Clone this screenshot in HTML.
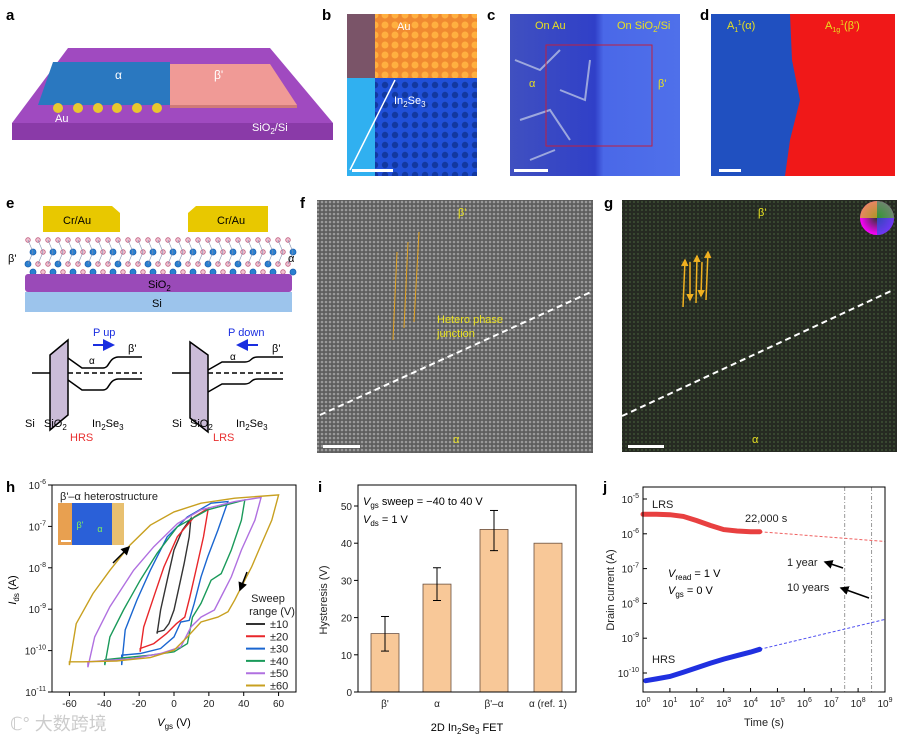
<!DOCTYPE html>
<html><head><meta charset="utf-8"><style>
body{margin:0;background:#fff;}
svg{display:block;font-family:"Liberation Sans","Noto Sans CJK SC",sans-serif;}
.pl{font-weight:bold;font-size:15px;fill:#000;}
.t{font-size:11px;fill:#222;}
.y{fill:#e8e020;font-size:11px;}
</style></head><body>
<svg id="fig" width="902" height="739" viewBox="0 0 902 739">
<defs>
<pattern id="aupat" width="10" height="10" patternUnits="userSpaceOnUse"><rect width="10" height="10" fill="#f08a30"/><circle cx="5" cy="5" r="3.5" fill="#ffb040"/></pattern>
<pattern id="bpat" width="10" height="10" patternUnits="userSpaceOnUse"><rect width="10" height="10" fill="#2050d8"/><circle cx="5" cy="5" r="3.2" fill="#1238a0"/></pattern>
<pattern id="tem" width="4" height="4" patternUnits="userSpaceOnUse"><rect width="4" height="4" fill="#5e5e5e"/><circle cx="2" cy="2" r="1.3" fill="#9a9a9a"/></pattern>
<pattern id="tem2" width="4" height="4" patternUnits="userSpaceOnUse"><rect width="4" height="4" fill="#262a22"/><circle cx="2" cy="2" r="1.1" fill="#3a4a32"/></pattern>
<linearGradient id="cgr" x1="0" x2="1"><stop offset="0" stop-color="#4050c0"/><stop offset="0.5" stop-color="#3040c8"/><stop offset="0.55" stop-color="#4a68e8"/><stop offset="1" stop-color="#4f70ea"/></linearGradient>
<radialGradient id="cw"><stop offset="0" stop-color="#333"/><stop offset="1" stop-color="#f0f"/></radialGradient>
<marker id="ah" markerWidth="6" markerHeight="6" refX="5" refY="3" orient="auto"><path d="M0,0L6,3L0,6z" fill="#000"/></marker>
<marker id="ahb" markerWidth="6" markerHeight="6" refX="5" refY="3" orient="auto"><path d="M0,0L6,3L0,6z" fill="#1a2ee0"/></marker>
<marker id="ahy" markerWidth="5" markerHeight="5" refX="4" refY="2.5" orient="auto"><path d="M0,0L5,2.5L0,5z" fill="#f0b020"/></marker>
</defs>

<g>
<text class="pl" x="6" y="20">a</text>
<polygon points="12,123 333,123 333,140 12,140" fill="#8a3aa8"/>
<polygon points="68,48 270,48 333,123 12,123" fill="#a04ac0"/>
<polygon points="53,62 170,62 170,105 38,105" fill="#2a78c0"/>
<g fill="#e8c830"><circle cx="58" cy="108" r="5"/><circle cx="78" cy="108" r="5"/><circle cx="98" cy="108" r="5"/><circle cx="117" cy="108" r="5"/><circle cx="137" cy="108" r="5"/><circle cx="157" cy="108" r="5"/></g>
<polygon points="170,64 270,64 297,105 170,105" fill="#f09a96"/>
<polygon points="170,105 297,105 297,108 170,108" fill="#d07a78"/>
<text x="115" y="79" fill="#fff" font-size="12">α</text>
<text x="214" y="79" fill="#fff" font-size="12">β'</text>
<text x="55" y="122" fill="#fff" font-size="11">Au</text>
<text x="252" y="131" fill="#fff" font-size="11">SiO<tspan font-size="8" dy="3">2</tspan><tspan dy="-3">/Si</tspan></text>
</g>

<g>
<text class="pl" x="322" y="20">b</text>
<rect x="347" y="14" width="130" height="162" fill="url(#bpat)"/>
<rect x="375" y="14" width="102" height="64" fill="url(#aupat)"/>
<rect x="347" y="14" width="28" height="64" fill="#7a5468"/>
<rect x="347" y="78" width="28" height="98" fill="#30b0f0"/>
<line x1="350" y1="170" x2="395" y2="80" stroke="#fff" stroke-width="1.5"/>
<text x="397" y="30" fill="#fff" font-size="11">Au</text>
<text x="394" y="104" fill="#fff" font-size="11">In<tspan font-size="8" dy="3">2</tspan><tspan dy="-3">Se</tspan><tspan font-size="8" dy="3">3</tspan></text>
<rect x="352" y="169" width="41" height="3" fill="#fff"/>
</g>

<g>
<text class="pl" x="487" y="20">c</text>
<rect x="510" y="14" width="170" height="162" fill="url(#cgr)"/>
<path d="M515,60 L540,70 L560,50 M520,120 L550,110 L570,140 M530,160 L555,150 M560,90 L585,100 L590,60" stroke="#c8d0e8" stroke-width="2" fill="none" opacity="0.7"/>
<rect x="546" y="45" width="106" height="101" fill="none" stroke="#c02040" stroke-width="1"/>
<text class="y" x="535" y="29">On Au</text>
<text class="y" x="617" y="29">On SiO<tspan font-size="8" dy="3">2</tspan><tspan dy="-3">/Si</tspan></text>
<text class="y" x="529" y="87">α</text>
<text class="y" x="658" y="87">β'</text>
<rect x="514" y="169" width="34" height="3" fill="#fff"/>
</g>

<g>
<text class="pl" x="700" y="20">d</text>
<rect x="711" y="14" width="184" height="162" fill="#2050c0"/>
<path d="M790,14 L895,14 L895,176 L785,176 L790,140 L800,100 L792,60 Z" fill="#f01818"/>
<text class="y" x="727" y="29">A<tspan font-size="7" dy="3">1</tspan><tspan font-size="7" dy="-7">1</tspan><tspan dy="4">(α)</tspan></text>
<text class="y" x="825" y="29" fill="#f0e020">A<tspan font-size="7" dy="3">1g</tspan><tspan font-size="7" dy="-7">1</tspan><tspan dy="4">(β')</tspan></text>
<rect x="719" y="169" width="22" height="3" fill="#fff"/>
</g>

<g>
<text class="pl" x="6" y="208">e</text>
<polygon points="43,206 112,206 120,213 120,232 43,232" fill="#e8c800"/>
<polygon points="196,206 268,206 268,232 188,232 188,213" fill="#e8c800"/>
<text x="63" y="224" font-size="11">Cr/Au</text>
<text x="217" y="224" font-size="11">Cr/Au</text>
<g id="lattice"></g>
<text x="8" y="262" font-size="11">β'</text>
<text x="288" y="262" font-size="11">α</text>
<rect x="25" y="274" width="267" height="18" rx="3" fill="#9a4ab8"/>
<text x="148" y="288" font-size="11">SiO<tspan font-size="8" dy="3">2</tspan></text>
<rect x="25" y="292" width="267" height="20" fill="#9cc4ec"/>
<text x="152" y="307" font-size="11">Si</text>
<g stroke="#000" stroke-width="1.5" fill="none">
<polygon points="50,355 68,340 68,415 50,430" fill="#cbbcd8"/>
<line x1="32" y1="373" x2="50" y2="373"/><line x1="68" y1="373" x2="142" y2="373" stroke-dasharray="5,3"/>
<path d="M68,358 L82,368 L103,368 C110,368 108,358 118,357 L142,357"/>
<path d="M68,380 L82,390 L103,390 C110,390 108,380 118,379 L142,379"/>
<polygon points="190,342 208,355 208,432 190,418" fill="#cbbcd8"/>
<line x1="172" y1="373" x2="190" y2="373"/><line x1="208" y1="373" x2="283" y2="373" stroke-dasharray="5,3"/>
<path d="M208,370 L222,362 L245,362 C252,362 250,357 258,357 L283,357"/>
<path d="M208,392 L222,384 L245,384 C252,384 250,379 258,379 L283,379"/>
</g>
<text x="93" y="336" fill="#1a2ee0" font-size="11">P up</text>
<line x1="93" y1="345" x2="113" y2="345" stroke="#1a2ee0" stroke-width="2" marker-end="url(#ahb)"/>
<text x="128" y="352" font-size="11">β'</text>
<text x="89" y="364" font-size="10">α</text>
<text x="228" y="336" fill="#1a2ee0" font-size="11">P down</text>
<line x1="258" y1="345" x2="238" y2="345" stroke="#1a2ee0" stroke-width="2" marker-end="url(#ahb)"/>
<text x="272" y="352" font-size="11">β'</text>
<text x="230" y="360" font-size="10">α</text>
<text x="25" y="427" font-size="11">Si</text><text x="44" y="427" font-size="11">SiO<tspan font-size="8" dy="3">2</tspan></text>
<text x="92" y="427" font-size="11">In<tspan font-size="8" dy="3">2</tspan><tspan dy="-3">Se</tspan><tspan font-size="8" dy="3">3</tspan></text>
<text x="70" y="441" fill="#e83030" font-size="11">HRS</text>
<text x="172" y="427" font-size="11">Si</text><text x="190" y="427" font-size="11">SiO<tspan font-size="8" dy="3">2</tspan></text>
<text x="236" y="427" font-size="11">In<tspan font-size="8" dy="3">2</tspan><tspan dy="-3">Se</tspan><tspan font-size="8" dy="3">3</tspan></text>
<text x="213" y="441" fill="#e83030" font-size="11">LRS</text>
</g>

<g>
<text class="pl" x="300" y="208">f</text>
<rect x="317" y="200" width="276" height="253" fill="url(#tem)"/>
<line x1="320" y1="415" x2="591" y2="292" stroke="#fff" stroke-width="2" stroke-dasharray="6,4"/>
<g stroke="#e0a020" stroke-width="1"><line x1="397" y1="252" x2="393" y2="340"/><line x1="408" y1="242" x2="404" y2="328"/><line x1="419" y1="232" x2="414" y2="322"/></g>
<text class="y" x="458" y="216">β'</text>
<text class="y" x="437" y="323">Hetero phase</text>
<text class="y" x="437" y="337">junction</text>
<text class="y" x="453" y="443">α</text>
<rect x="323" y="445" width="37" height="3" fill="#fff"/>
</g>

<g>
<text class="pl" x="604" y="208">g</text>
<rect x="622" y="200" width="275" height="252" fill="url(#tem2)"/>
<line x1="622" y1="416" x2="891" y2="291" stroke="#fff" stroke-width="2" stroke-dasharray="6,4"/>
<g stroke="#f0b020" stroke-width="1.5">
<line x1="683" y1="307" x2="685" y2="260" marker-end="url(#ahy)"/><line x1="690" y1="262" x2="690" y2="300" marker-end="url(#ahy)"/>
<line x1="696" y1="303" x2="697" y2="256" marker-end="url(#ahy)"/><line x1="702" y1="262" x2="701" y2="296" marker-end="url(#ahy)"/>
<line x1="706" y1="300" x2="708" y2="252" marker-end="url(#ahy)"/></g>
<circle cx="877" cy="218" r="17" fill="url(#cw)"/>
<path d="M877,218 L877,201 A17,17 0 0 1 894,218 Z" fill="#30c030" opacity="0.7"/>
<path d="M877,218 L894,218 A17,17 0 0 1 877,235 Z" fill="#3050f0" opacity="0.7"/>
<path d="M877,218 L860,218 A17,17 0 0 1 877,201 Z" fill="#e0c020" opacity="0.7"/>
<text class="y" x="758" y="216">β'</text>
<text class="y" x="752" y="443">α</text>
<rect x="628" y="445" width="36" height="3" fill="#fff"/>
</g>

<text class="pl" x="6" y="492">h</text>
<text class="pl" x="318" y="492">i</text>
<text class="pl" x="603" y="492">j</text>
<g id="ph"></g>
<g id="pi"></g>
<g id="pj"></g>
<text x="10" y="730" fill="#ccc" font-size="18">ℂ° 大数跨境</text>
</svg>
<script>
const hRanges = ['±10','±20','±30','±40','±50','±60'];
const hColors = ['#333333','#e8262a','#1a66d0','#1a9a5a','#b070e0','#c8a020'];
const hV10 = [-9.7,-7.7,-3.9,0,4.8,9.7,8.7,5.8,2.9,0,-2.9,-5.8,-9.7];
const hI10 = [-9.59,-9.02,-8.3,-7.57,-7.09,-6.81,-7.25,-7.9,-8.46,-9.02,-9.35,-9.51,-9.55];
const hV20 = [-19.4,-17.4,-11.6,-5.8,1.9,11.6,19.7,16.9,13,9.1,6.2,1.4,-4.3,-11.6,-19.4];
const hI20 = [-10.03,-9.43,-8.7,-7.98,-7.25,-6.77,-6.56,-7.25,-7.98,-8.7,-9.19,-9.35,-9.59,-9.83,-9.95];
const hV30 = [-30,-28,-21.3,-13.6,-3.9,7.7,21.3,30.9,25.2,19.4,15.5,11.6,8.7,3.9,0,-7.7,-19.4,-30];
const hI30 = [-10.35,-9.5,-8.78,-8.06,-7.25,-6.77,-6.44,-6.4,-7.09,-7.73,-8.22,-8.86,-9.27,-9.31,-9.67,-9.95,-10.07,-10.11];
const hV40 = [-39.7,-36.8,-29,-19.4,-9.7,1.9,19.4,40.6,38.7,32.9,27.1,21.3,15.5,10.6,7.7,0,-13.6,-32.9,-39.7];
const hI40 = [-10.35,-9.67,-9.02,-8.3,-7.65,-7.01,-6.6,-6.36,-6.85,-7.57,-8.14,-8.3,-8.86,-9.19,-9.83,-10.03,-10.11,-10.19,-10.22];
const hV50 = [-49.4,-45.5,-36.8,-23.2,-11.6,2,15.5,34.8,50,46.4,38.7,32.9,28,23.2,15.5,9.7,3.9,-7.7,-23.2,-42.6,-49.4];
const hI50 = [-10.4,-9.67,-8.94,-8.06,-7.49,-6.93,-6.6,-6.4,-6.3,-6.85,-7.57,-8.22,-8.62,-9.02,-9.19,-9.43,-9.91,-10.07,-10.19,-10.25,-10.27];
const hV60 = [-60,-56.1,-46.5,-36.8,-25.2,-13.6,0,15.5,34.8,60,56.1,50.3,44.5,38.7,34.8,31,25.2,15.5,7.7,0,-13.6,-32.9,-52.3,-60];
const hI60 = [-10.35,-9.35,-8.62,-8.06,-7.45,-6.97,-6.65,-6.44,-6.32,-6.24,-6.85,-7.41,-7.98,-8.46,-8.78,-9.06,-9.19,-9.31,-9.67,-9.99,-10.17,-10.25,-10.27,-10.27];
const hXTicks = [-60,-40,-20,0,20,40,60];
const hYTicks = [-6,-7,-8,-9,-10,-11];
const iCats = ["β'","α","β'–α","α (ref. 1)"];
const iVals = [15.7,29,43.7,40];
const iErrLo = [11,24.6,38,null];
const iErrHi = [20.3,33.4,48.8,null];
const iYTicks = [0,10,20,30,40,50];
const jLrsT = [0,0.5,1,1.5,2,2.5,3,3.5,4,4.34];
const jLrsI = [-5.44,-5.44,-5.45,-5.5,-5.62,-5.76,-5.88,-5.92,-5.94,-5.94];
const jHrsT = [0.1,0.5,1,1.5,2,2.5,3,3.5,4,4.34];
const jHrsI = [-10.22,-10.17,-10.1,-9.98,-9.85,-9.72,-9.6,-9.5,-9.4,-9.32];
const jLrsFit = [[4.34,-5.94],[9,-6.22]];
const jHrsFit = [[4.34,-9.32],[9,-8.46]];
const jXTicks = [0,1,2,3,4,5,6,7,8,9];
const jYTicks = [-5,-6,-7,-8,-9,-10];
const jMarks = [7.5,8.5];

const NS='http://www.w3.org/2000/svg';
function mk(tag,attrs,parent){const e=document.createElementNS(NS,tag);for(const k in attrs)e.setAttribute(k,attrs[k]);parent.appendChild(e);return e;}
function txt(parent,x,y,s,size,anchor){const t=mk('text',{x:x,y:y,'font-size':size||10,'text-anchor':anchor||'middle',fill:'#222'},parent);t.textContent=s;return t;}
function pow10(parent,x,y,exp,anchor){const t=mk('text',{x:x,y:y,'font-size':10,'text-anchor':anchor,fill:'#222'},parent);t.textContent='10';const s=mk('tspan',{dy:-5,'font-size':7},t);s.textContent=exp;return t;}

(function(){const g=document.getElementById('lattice');
for(let i=0;i<27;i++){const x=28+i*10;
 [[x,240],[x+5,252],[x,264],[x+5,272]].forEach((p,k)=>{const blue=(k%2==1)&&(i%2==0)||(k==2&&i%3==0);
 const c=mk('circle',{cx:p[0],cy:p[1],r:blue?3:2.3,fill:blue?'#2a80d0':'#f0c0d0',stroke:blue?'#1a60b0':'#c06080','stroke-width':0.8},g);
 
 });
 mk('line',{x1:x,y1:240,x2:x+5,y2:252,stroke:'#8090b0','stroke-width':0.6},g);
 mk('line',{x1:x+5,y1:252,x2:x,y2:264,stroke:'#8090b0','stroke-width':0.6},g);
}})();

(function(){const g=document.getElementById('ph');
const X0=52,X1=296,Y0=485,Y1=692;
const sx=v=>X0+(v+70)/140*(X1-X0);
const sy=l=>Y0+(-6-l)/5*(Y1-Y0);
const series=[[hV10,hI10],[hV20,hI20],[hV30,hI30],[hV40,hI40],[hV50,hI50],[hV60,hI60]];
series.forEach((s,k)=>{let d='';s[0].forEach((v,i)=>{d+=(i?'L':'M')+sx(v).toFixed(1)+','+sy(s[1][i]).toFixed(1);});
 const p=mk('path',{d:d+'Z',fill:'none',stroke:hColors[k],'stroke-width':1.4},g);
 
 });
const fr=mk('rect',{x:X0,y:Y0,width:X1-X0,height:Y1-Y0,fill:'none',stroke:'#000','stroke-width':1},g);

hXTicks.forEach(v=>{mk('line',{x1:sx(v),y1:Y1,x2:sx(v),y2:Y1+4,stroke:'#000'},g);const t=txt(g,sx(v),Y1+15,v,10);});
hYTicks.forEach(l=>{mk('line',{x1:X0-4,y1:sy(l),x2:X0,y2:sy(l),stroke:'#000'},g);const t=pow10(g,X0-6,sy(l)+4,l,'end');});
const xl=mk('text',{x:174,y:726,'font-size':11,'text-anchor':'middle'},g);xl.innerHTML='<tspan font-style="italic">V</tspan><tspan font-size="8" dy="3">gs</tspan><tspan dy="-3"> (V)</tspan>';

const yl=mk('text',{x:16,y:590,'font-size':11,'text-anchor':'middle',transform:'rotate(-90 16 590)'},g);yl.innerHTML='<tspan font-style="italic">I</tspan><tspan font-size="8" dy="3">ds</tspan><tspan dy="-3"> (A)</tspan>';

mk('rect',{x:58,y:503,width:66,height:42,fill:'#2a60d8'},g);mk('rect',{x:58,y:503,width:14,height:42,fill:'#e8a050'},g);mk('rect',{x:112,y:503,width:12,height:42,fill:'#e8c070'},g);
txt(g,80,528,"β'",9).setAttribute('fill','#80f060');txt(g,100,532,"α",9).setAttribute('fill','#80f060');
mk('rect',{x:61,y:540,width:10,height:2,fill:'#fff'},g);
txt(g,60,500,"β'–α heterostructure",11,'start');
mk('line',{x1:113,y1:563,x2:129,y2:547,stroke:'#000','stroke-width':1.5,'marker-end':'url(#ah)'},g);
mk('line',{x1:247,y1:572,x2:240,y2:590,stroke:'#000','stroke-width':1.5,'marker-end':'url(#ah)'},g);
txt(g,268,602,'Sweep',11);txt(g,272,615,'range (V)',11);
hRanges.forEach((r,k)=>{const y=624+k*12.3;mk('line',{x1:246,y1:y,x2:265,y2:y,stroke:hColors[k],'stroke-width':2},g);
 const t=txt(g,270,y+4,r,11,'start');});
})();

(function(){const g=document.getElementById('pi');
const X0=358,X1=576,Y0=485,Y1=692;
const sy=v=>Y1-v*3.72;
const cx=[385,437,494,548];
iVals.forEach((v,k)=>{const r=mk('rect',{x:cx[k]-14,y:sy(v),width:28,height:Y1-sy(v),fill:'#f8c898',stroke:'#6a5040','stroke-width':0.8},g);
 
 if(iErrLo[k]!==null){mk('line',{x1:cx[k],y1:sy(iErrLo[k]),x2:cx[k],y2:sy(iErrHi[k]),stroke:'#000'},g);
  mk('line',{x1:cx[k]-4,y1:sy(iErrLo[k]),x2:cx[k]+4,y2:sy(iErrLo[k]),stroke:'#000'},g);
  mk('line',{x1:cx[k]-4,y1:sy(iErrHi[k]),x2:cx[k]+4,y2:sy(iErrHi[k]),stroke:'#000'},g);}
 const t=txt(g,cx[k],Y1+15,iCats[k],10);
});
mk('rect',{x:X0,y:Y0,width:X1-X0,height:Y1-Y0,fill:'none',stroke:'#000'},g);
iYTicks.forEach(v=>{mk('line',{x1:X0-4,y1:sy(v),x2:X0,y2:sy(v),stroke:'#000'},g);const t=txt(g,X0-6,sy(v)+4,v,10,'end');});
const yl=txt(g,327,600,'Hysteresis (V)',11);yl.setAttribute('transform','rotate(-90 327 600)');

const xl=mk('text',{x:467,y:731,'font-size':11,'text-anchor':'middle'},g);xl.innerHTML='2D In<tspan font-size="8" dy="3">2</tspan><tspan dy="-3">Se</tspan><tspan font-size="8" dy="3">3</tspan><tspan dy="-3"> FET</tspan>';

const a=mk('text',{x:363,y:505,'font-size':11},g);a.innerHTML='<tspan font-style="italic">V</tspan><tspan font-size="8" dy="3">gs</tspan><tspan dy="-3"> sweep = −40 to 40 V</tspan>';
const b=mk('text',{x:363,y:523,'font-size':11},g);b.innerHTML='<tspan font-style="italic">V</tspan><tspan font-size="8" dy="3">ds</tspan><tspan dy="-3"> = 1 V</tspan>';
})();

(function(){const g=document.getElementById('pj');
const X0=643,X1=885,Y0=487,Y1=692;
const sx=t=>X0+t*(X1-X0)/9;
const sy=l=>499+(-5-l)*34.8;
jMarks.forEach(m=>mk('line',{x1:sx(m),y1:Y0,x2:sx(m),y2:Y1,stroke:'#999','stroke-dasharray':'4,2,1,2'},g));
[[jLrsFit,'#f06060'],[jHrsFit,'#5050f0']].forEach(f=>mk('line',{x1:sx(f[0][0][0]),y1:sy(f[0][0][1]),x2:sx(f[0][1][0]),y2:sy(f[0][1][1]),stroke:f[1],'stroke-dasharray':'3,2'},g));
function pts(T,I,col,name){let d='';T.forEach((t,i)=>{d+=(i?'L':'M')+sx(t).toFixed(1)+','+sy(I[i]).toFixed(1);});
 const p=mk('path',{d:d,fill:'none',stroke:col,'stroke-width':5,'stroke-linecap':'round'},g);
 }
pts(jLrsT,jLrsI,'#e84040','lrs-series');pts(jHrsT,jHrsI,'#2030e0','hrs-series');
mk('rect',{x:X0,y:Y0,width:X1-X0,height:Y1-Y0,fill:'none',stroke:'#000'},g);
jXTicks.forEach(t=>{mk('line',{x1:sx(t),y1:Y1,x2:sx(t),y2:Y1-4,stroke:'#000'},g);const e=pow10(g,sx(t),Y1+15,t,'middle');});
jYTicks.forEach(l=>{mk('line',{x1:X0,y1:sy(l),x2:X0+4,y2:sy(l),stroke:'#000'},g);const e=pow10(g,X0-4,sy(l)+4,l,'end');});
txt(g,764,726,'Time (s)',11);
const yl=txt(g,614,590,'Drain current (A)',11);yl.setAttribute('transform','rotate(-90 614 590)');
txt(g,652,508,'LRS',11,'start');txt(g,652,663,'HRS',11,'start');txt(g,745,522,'22,000 s',11,'start');
txt(g,787,566,'1 year',11,'start');txt(g,787,591,'10 years',11,'start');
mk('line',{x1:843,y1:568,x2:825,y2:562,stroke:'#000','stroke-width':1.5,'marker-end':'url(#ah)'},g);
mk('line',{x1:869,y1:598,x2:841,y2:588,stroke:'#000','stroke-width':1.5,'marker-end':'url(#ah)'},g);
const a=mk('text',{x:668,y:577,'font-size':11},g);a.innerHTML='<tspan font-style="italic">V</tspan><tspan font-size="8" dy="3">read</tspan><tspan dy="-3"> = 1 V</tspan>';
const b=mk('text',{x:668,y:594,'font-size':11},g);b.innerHTML='<tspan font-style="italic">V</tspan><tspan font-size="8" dy="3">gs</tspan><tspan dy="-3"> = 0 V</tspan>';
})();
</script>
</body></html>
